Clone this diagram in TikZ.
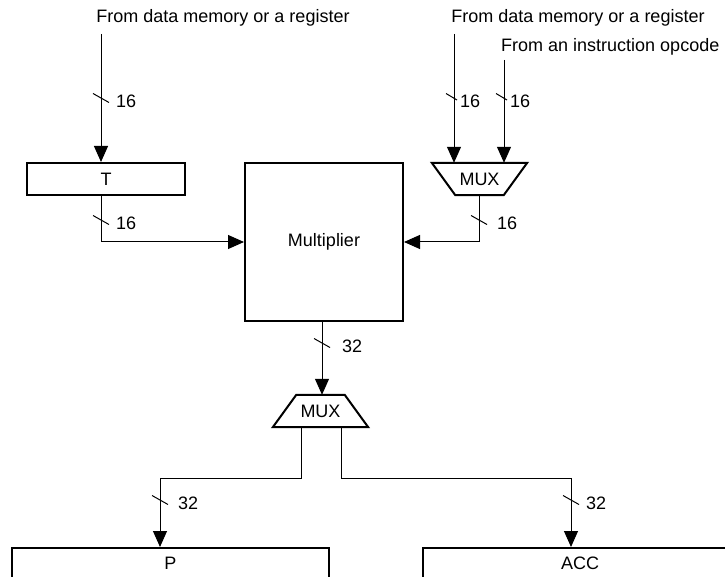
\documentclass[tikz,border=0pt]{standalone}
\usepackage{fontspec}
\setmainfont{Liberation Sans}
\usetikzlibrary{arrows.meta}
\begin{document}
\begin{tikzpicture}[x=1pt,y=-1pt,
  every node/.style={font=\fontsize{18pt}{21pt}\selectfont},
  box/.style={draw, line width=2pt, inner sep=0pt},
  wire/.style={line width=1pt},
  arr/.style={wire, -{Triangle[length=16pt,width=14pt]}},
  slash/.style={line width=1pt},
  lbl/.style={anchor=west, inner sep=0pt}
]
\useasboundingbox (0,0) rectangle (725,577);

% boxes
\node[box, minimum width=158pt, minimum height=32pt] (T) at (106,179) {T};
\node[box, minimum width=158pt, minimum height=158pt] (mult) at (324,242) {Multiplier};
\node[box, minimum width=317pt, minimum height=36pt, anchor=north] (P) at (170.5,547) {};
\node[anchor=center, inner sep=0pt] (Ptxt) at (170.5,563) {P};
\node[box, minimum width=317pt, minimum height=36pt, anchor=north] (ACC) at (581.5,547) {};
\node[anchor=center, inner sep=0pt] (ACCtxt) at (580,563) {ACC};

% top MUX (wide top)
\node[inner sep=0pt, minimum width=95pt, minimum height=32pt] (muxA) at (479.5,179) {MUX};
\draw[line width=2pt, line join=miter] (muxA.north west) -- (muxA.north east)
  -- ([xshift=-23.5pt]muxA.south east) -- ([xshift=23.5pt]muxA.south west) -- cycle;

% bottom MUX (wide bottom)
\node[inner sep=0pt, minimum width=95pt, minimum height=32pt] (muxB) at (320.5,411) {MUX};
\draw[line width=2pt, line join=miter] ([xshift=23.5pt]muxB.north west) -- ([xshift=-23.5pt]muxB.north east)
  -- (muxB.south east) -- (muxB.south west) -- cycle;

% texts
\node[inner sep=0pt] (srcA) at (223,18) {From data memory or a register};
\node[inner sep=0pt] (srcB) at (578,18) {From data memory or a register};
\node[inner sep=0pt, anchor=west] (srcC) at (501,47) {From an instruction opcode};

\coordinate (inA) at (101,34);
\coordinate (inB) at (454,34);
\coordinate (inC) at (504,60);
\coordinate (xM) at (322,0);
\coordinate (xL) at (160,0);
\coordinate (xR) at (571,0);
\coordinate (oL) at (301,427);
\coordinate (oR) at (341,427);
\coordinate (jL) at (301,478);
\coordinate (jR) at (341,478);

% wires
\draw[arr] (inA) -- (inA |- T.north);
\draw[arr] (inB) -- (inB |- muxA.north);
\draw[arr] (inC) -- (inC |- muxA.north);
\draw[arr] (T.south -| inA) |- (mult.west);
\draw[arr] (muxA.south) |- (mult.east);
\draw[arr] (mult.south -| xM) -- (muxB.north -| xM);
\draw[arr] (oL) -- (jL) -| (P.north -| xL);
\draw[arr] (oR) -- (jR) -| (ACC.north -| xR);

% bus-width slashes and labels
\foreach \x/\y/\dx/\t in {101/98/15/16, 101/220/15/16, 479/220/18/16, 322/343/20/32, 160/500/18/32, 571/500/15/32}{
  \draw[slash] (\x-8,\y-4.5) -- (\x+8,\y+4.5);
  \node[lbl] at (\x+\dx,\y+3) {\t};
}
\foreach \x/\y in {454/98, 504/98}{
  \draw[slash] (\x-8,\y-4.5) -- (\x+3,\y+2);
  \node[lbl] at (\x+6,\y+3) {16};
}
\end{tikzpicture}
\end{document}
